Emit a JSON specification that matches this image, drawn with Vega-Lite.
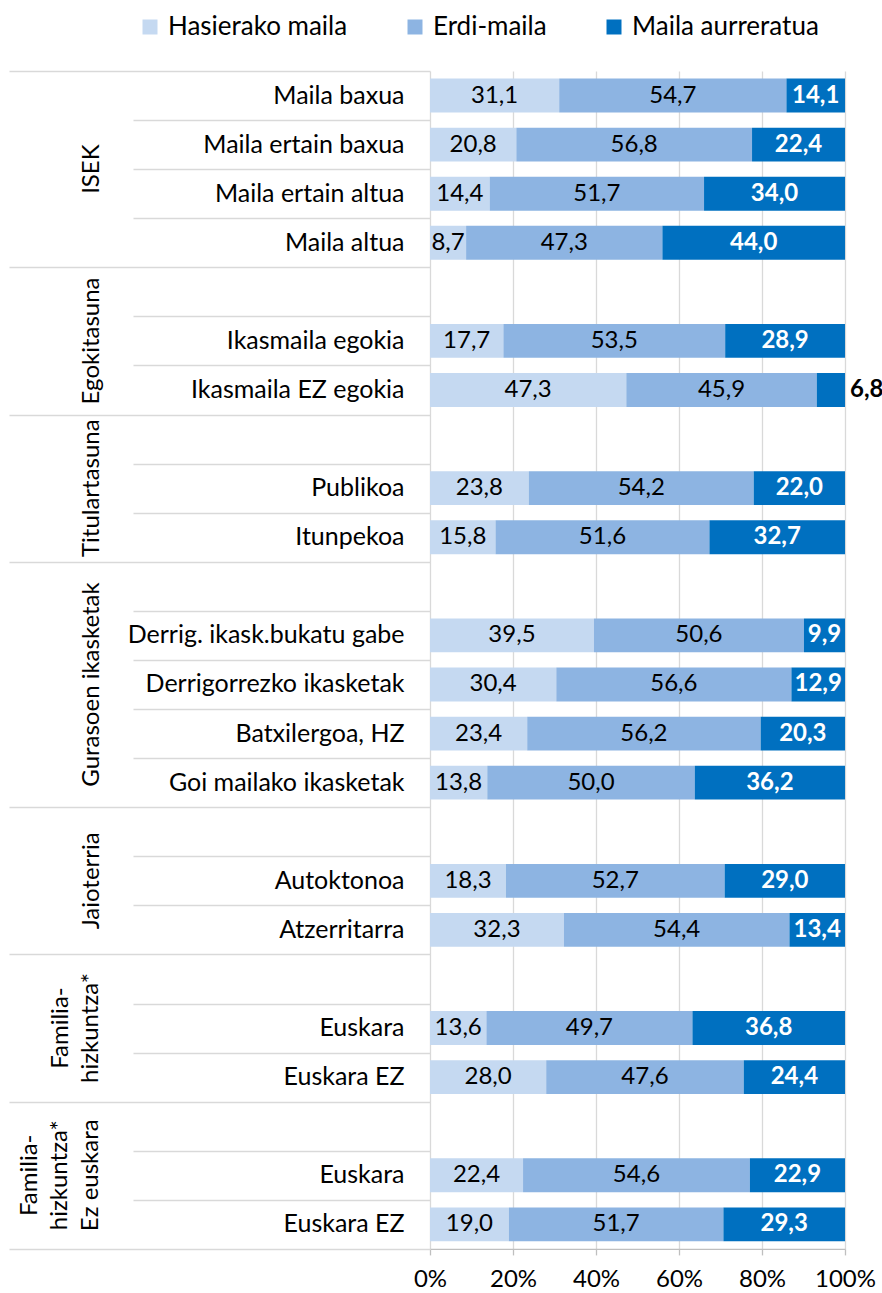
{
  "$schema": "https://vega.github.io/schema/vega-lite/v6.json",
  "width": 415,
  "height": {"step": 49.08},
  "padding": {"left": 8, "top": 14, "right": 0, "bottom": 0},
  "config": {
    "view": {"stroke": null},
    "font": "Lato",
    "locale": {"number": {"decimal": ",", "thousands": ".", "grouping": [3], "currency": ["", " €"]}}
  },
  "data": {
    "values": [
      {"k": "ISEK::Maila baxua", "s": 1, "lvl": "Hasierako maila", "v": 31.1},
      {"k": "ISEK::Maila baxua", "s": 2, "lvl": "Erdi-maila", "v": 54.7},
      {"k": "ISEK::Maila baxua", "s": 3, "lvl": "Maila aurreratua", "v": 14.1},
      {"k": "ISEK::Maila ertain baxua", "s": 1, "lvl": "Hasierako maila", "v": 20.8},
      {"k": "ISEK::Maila ertain baxua", "s": 2, "lvl": "Erdi-maila", "v": 56.8},
      {"k": "ISEK::Maila ertain baxua", "s": 3, "lvl": "Maila aurreratua", "v": 22.4},
      {"k": "ISEK::Maila ertain altua", "s": 1, "lvl": "Hasierako maila", "v": 14.4},
      {"k": "ISEK::Maila ertain altua", "s": 2, "lvl": "Erdi-maila", "v": 51.7},
      {"k": "ISEK::Maila ertain altua", "s": 3, "lvl": "Maila aurreratua", "v": 34.0},
      {"k": "ISEK::Maila altua", "s": 1, "lvl": "Hasierako maila", "v": 8.7},
      {"k": "ISEK::Maila altua", "s": 2, "lvl": "Erdi-maila", "v": 47.3},
      {"k": "ISEK::Maila altua", "s": 3, "lvl": "Maila aurreratua", "v": 44.0},
      {"k": "Egokitasuna::Ikasmaila egokia", "s": 1, "lvl": "Hasierako maila", "v": 17.7},
      {"k": "Egokitasuna::Ikasmaila egokia", "s": 2, "lvl": "Erdi-maila", "v": 53.5},
      {"k": "Egokitasuna::Ikasmaila egokia", "s": 3, "lvl": "Maila aurreratua", "v": 28.9},
      {"k": "Egokitasuna::Ikasmaila EZ egokia", "s": 1, "lvl": "Hasierako maila", "v": 47.3},
      {"k": "Egokitasuna::Ikasmaila EZ egokia", "s": 2, "lvl": "Erdi-maila", "v": 45.9},
      {"k": "Egokitasuna::Ikasmaila EZ egokia", "s": 3, "lvl": "Maila aurreratua", "v": 6.8},
      {"k": "Titulartasuna::Publikoa", "s": 1, "lvl": "Hasierako maila", "v": 23.8},
      {"k": "Titulartasuna::Publikoa", "s": 2, "lvl": "Erdi-maila", "v": 54.2},
      {"k": "Titulartasuna::Publikoa", "s": 3, "lvl": "Maila aurreratua", "v": 22.0},
      {"k": "Titulartasuna::Itunpekoa", "s": 1, "lvl": "Hasierako maila", "v": 15.8},
      {"k": "Titulartasuna::Itunpekoa", "s": 2, "lvl": "Erdi-maila", "v": 51.6},
      {"k": "Titulartasuna::Itunpekoa", "s": 3, "lvl": "Maila aurreratua", "v": 32.7},
      {"k": "Gurasoen ikasketak::Derrig. ikask.bukatu gabe", "s": 1, "lvl": "Hasierako maila", "v": 39.5},
      {"k": "Gurasoen ikasketak::Derrig. ikask.bukatu gabe", "s": 2, "lvl": "Erdi-maila", "v": 50.6},
      {"k": "Gurasoen ikasketak::Derrig. ikask.bukatu gabe", "s": 3, "lvl": "Maila aurreratua", "v": 9.9},
      {"k": "Gurasoen ikasketak::Derrigorrezko ikasketak", "s": 1, "lvl": "Hasierako maila", "v": 30.4},
      {"k": "Gurasoen ikasketak::Derrigorrezko ikasketak", "s": 2, "lvl": "Erdi-maila", "v": 56.6},
      {"k": "Gurasoen ikasketak::Derrigorrezko ikasketak", "s": 3, "lvl": "Maila aurreratua", "v": 12.9},
      {"k": "Gurasoen ikasketak::Batxilergoa, HZ", "s": 1, "lvl": "Hasierako maila", "v": 23.4},
      {"k": "Gurasoen ikasketak::Batxilergoa, HZ", "s": 2, "lvl": "Erdi-maila", "v": 56.2},
      {"k": "Gurasoen ikasketak::Batxilergoa, HZ", "s": 3, "lvl": "Maila aurreratua", "v": 20.3},
      {"k": "Gurasoen ikasketak::Goi mailako ikasketak", "s": 1, "lvl": "Hasierako maila", "v": 13.8},
      {"k": "Gurasoen ikasketak::Goi mailako ikasketak", "s": 2, "lvl": "Erdi-maila", "v": 50.0},
      {"k": "Gurasoen ikasketak::Goi mailako ikasketak", "s": 3, "lvl": "Maila aurreratua", "v": 36.2},
      {"k": "Jaioterria::Autoktonoa", "s": 1, "lvl": "Hasierako maila", "v": 18.3},
      {"k": "Jaioterria::Autoktonoa", "s": 2, "lvl": "Erdi-maila", "v": 52.7},
      {"k": "Jaioterria::Autoktonoa", "s": 3, "lvl": "Maila aurreratua", "v": 29.0},
      {"k": "Jaioterria::Atzerritarra", "s": 1, "lvl": "Hasierako maila", "v": 32.3},
      {"k": "Jaioterria::Atzerritarra", "s": 2, "lvl": "Erdi-maila", "v": 54.4},
      {"k": "Jaioterria::Atzerritarra", "s": 3, "lvl": "Maila aurreratua", "v": 13.4},
      {"k": "Familia-|hizkuntza*::Euskara", "s": 1, "lvl": "Hasierako maila", "v": 13.6},
      {"k": "Familia-|hizkuntza*::Euskara", "s": 2, "lvl": "Erdi-maila", "v": 49.7},
      {"k": "Familia-|hizkuntza*::Euskara", "s": 3, "lvl": "Maila aurreratua", "v": 36.8},
      {"k": "Familia-|hizkuntza*::Euskara EZ", "s": 1, "lvl": "Hasierako maila", "v": 28.0},
      {"k": "Familia-|hizkuntza*::Euskara EZ", "s": 2, "lvl": "Erdi-maila", "v": 47.6},
      {"k": "Familia-|hizkuntza*::Euskara EZ", "s": 3, "lvl": "Maila aurreratua", "v": 24.4},
      {"k": "Familia-|hizkuntza*|Ez euskara::Euskara", "s": 1, "lvl": "Hasierako maila", "v": 22.4},
      {"k": "Familia-|hizkuntza*|Ez euskara::Euskara", "s": 2, "lvl": "Erdi-maila", "v": 54.6},
      {"k": "Familia-|hizkuntza*|Ez euskara::Euskara", "s": 3, "lvl": "Maila aurreratua", "v": 22.9},
      {"k": "Familia-|hizkuntza*|Ez euskara::Euskara EZ", "s": 1, "lvl": "Hasierako maila", "v": 19.0},
      {"k": "Familia-|hizkuntza*|Ez euskara::Euskara EZ", "s": 2, "lvl": "Erdi-maila", "v": 51.7},
      {"k": "Familia-|hizkuntza*|Ez euskara::Euskara EZ", "s": 3, "lvl": "Maila aurreratua", "v": 29.3}
    ]
  },
  "layer": [
    {
      "mark": {"type": "bar", "height": {"band": 0.69}},
      "encoding": {
        "y": {
          "field": "k", "type": "nominal", "sort": null,
          "scale": {
            "domain": [
              "ISEK::Maila baxua", "ISEK::Maila ertain baxua", "ISEK::Maila ertain altua", "ISEK::Maila altua",
              "Egokitasuna::", "Egokitasuna::Ikasmaila egokia", "Egokitasuna::Ikasmaila EZ egokia",
              "Titulartasuna::", "Titulartasuna::Publikoa", "Titulartasuna::Itunpekoa",
              "Gurasoen ikasketak::", "Gurasoen ikasketak::Derrig. ikask.bukatu gabe", "Gurasoen ikasketak::Derrigorrezko ikasketak", "Gurasoen ikasketak::Batxilergoa, HZ", "Gurasoen ikasketak::Goi mailako ikasketak",
              "Jaioterria::", "Jaioterria::Autoktonoa", "Jaioterria::Atzerritarra",
              "Familia-|hizkuntza*::", "Familia-|hizkuntza*::Euskara", "Familia-|hizkuntza*::Euskara EZ",
              "Familia-|hizkuntza*|Ez euskara::", "Familia-|hizkuntza*|Ez euskara::Euskara", "Familia-|hizkuntza*|Ez euskara::Euskara EZ"
            ],
            "paddingInner": 0, "paddingOuter": 0
          },
          "axis": {
            "orient": "left", "title": null, "labels": false, "domain": false, "grid": false,
            "ticks": true, "tickBand": "extent", "tickColor": "#D9D9D9", "tickWidth": 1.3,
            "tickSize": {
              "condition": {
                "test": "datum.extra || indexof(['ISEK::Maila altua','Egokitasuna::Ikasmaila EZ egokia','Titulartasuna::Itunpekoa','Gurasoen ikasketak::Goi mailako ikasketak','Jaioterria::Atzerritarra','Familia-|hizkuntza*::Euskara EZ','Familia-|hizkuntza*|Ez euskara::Euskara EZ'], datum.value) >= 0",
                "value": 421
              },
              "value": 297
            }
          }
        },
        "x": {
          "field": "v", "type": "quantitative", "stack": "normalize",
          "scale": {"domain": [0, 1]},
          "axis": {
            "orient": "bottom", "title": null, "values": [0, 0.2, 0.4, 0.6, 0.8, 1], "format": ".0%",
            "grid": true, "gridColor": "#D9D9D9", "gridWidth": 1.3,
            "domainColor": "#BFBFBF", "domainWidth": 1.3, "tickColor": "#BFBFBF", "tickWidth": 1.3, "tickSize": 6,
            "labelFontSize": 24, "labelColor": "#000000", "labelPadding": 13, "labelFlush": false
          }
        },
        "color": {
          "field": "lvl", "type": "nominal",
          "scale": {"domain": ["Hasierako maila", "Erdi-maila", "Maila aurreratua"], "range": ["#C5D9F1", "#8DB4E2", "#0070C0"]},
          "legend": {
            "orient": "none", "legendX": -293, "legendY": -57, "direction": "horizontal", "title": null,
            "symbolType": "square", "symbolSize": 225, "symbolStrokeWidth": 0,
            "labelFontSize": 26, "labelColor": "#000000", "labelOffset": 5, "columnPadding": 54, "labelLimit": 300
          }
        },
        "order": {"field": "s"}
      }
    },
    {
      "mark": {"type": "text", "fontSize": 24, "color": "#000000"},
      "encoding": {
        "y": {
          "field": "k", "type": "nominal", "sort": null,
          "axis": {
            "orient": "left", "title": null, "ticks": false, "domain": false, "grid": false,
            "labelExpr": "split(datum.value, '::')[1]", "labelPadding": 26, "labelFontSize": 25,
            "labelColor": "#000000", "labelLimit": 400
          }
        },
        "x": {"field": "v", "type": "quantitative", "stack": "normalize", "bandPosition": 0.5},
        "detail": {"field": "lvl"},
        "order": {"field": "s"},
        "text": {"condition": {"test": "datum.s < 3", "field": "v", "type": "quantitative", "format": ".1f"}, "value": ""}
      }
    },
    {
      "mark": {"type": "text", "fontSize": 24, "fontWeight": "bold", "color": "#FFFFFF"},
      "encoding": {
        "y": {
          "field": "k", "type": "nominal", "sort": null,
          "axis": {
            "orient": "left", "title": null, "ticks": false, "domain": false, "grid": false,
            "values": ["ISEK::Maila ertain baxua", "Egokitasuna::Ikasmaila egokia", "Titulartasuna::Publikoa", "Gurasoen ikasketak::Derrigorrezko ikasketak", "Jaioterria::Autoktonoa", "Familia-|hizkuntza*::Euskara", "Familia-|hizkuntza*|Ez euskara::Euskara"],
            "labelExpr": "split(split(datum.value, '::')[0], '|')",
            "labelAngle": -90, "labelAlign": "center", "labelBaseline": "bottom",
            "labelPadding": {
              "condition": [
                {"test": "indexof(datum.value, 'Ez euskara::') >= 0", "value": 389},
                {"test": "indexof(datum.value, '|') >= 0", "value": 358}
              ],
              "value": 327
            },
            "labelLineHeight": 31, "labelFontSize": 24, "labelColor": "#000000", "labelLimit": 0,
            "labelOffset": {"condition": {"test": "datum.value == 'ISEK::Maila ertain baxua'", "value": 24.5}, "value": 0}
          }
        },
        "x": {"field": "v", "type": "quantitative", "stack": "normalize", "bandPosition": 0.5},
        "detail": {"field": "lvl"},
        "order": {"field": "s"},
        "text": {"condition": {"test": "datum.s == 3 && datum.v >= 9", "field": "v", "type": "quantitative", "format": ".1f"}, "value": ""}
      }
    },
    {
      "mark": {"type": "text", "fontSize": 24, "fontWeight": "bold", "color": "#000000", "align": "left", "dx": 5},
      "encoding": {
        "y": {"field": "k", "type": "nominal", "sort": null, "axis": null},
        "x": {"field": "v", "type": "quantitative", "stack": "normalize", "bandPosition": 1},
        "detail": {"field": "lvl"},
        "order": {"field": "s"},
        "text": {"condition": {"test": "datum.s == 3 && datum.v < 9", "field": "v", "type": "quantitative", "format": ".1f"}, "value": ""}
      }
    }
  ],
  "resolve": {"axis": {"y": "independent"}}
}
